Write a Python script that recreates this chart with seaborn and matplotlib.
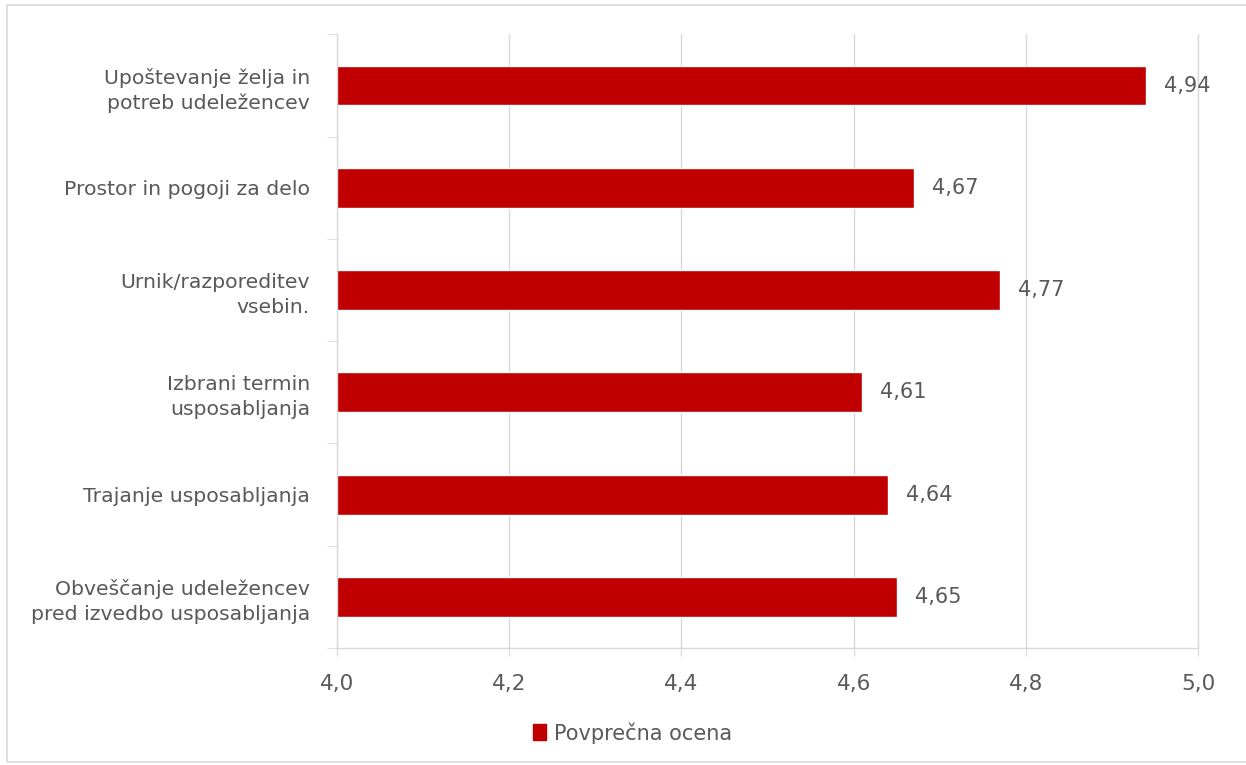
import pandas as pd
import matplotlib.pyplot as plt
import matplotlib.patches as mpatches
from matplotlib.ticker import FixedLocator, FuncFormatter
import seaborn as sns

categories = [
    "Upoštevanje želja in\npotreb udeležencev",
    "Prostor in pogoji za delo",
    "Urnik/razporeditev\nvsebin.",
    "Izbrani termin\nusposabljanja",
    "Trajanje usposabljanja",
    "Obveščanje udeležencev\npred izvedbo usposabljanja",
]
scores = [4.94, 4.67, 4.77, 4.61, 4.64, 4.65]
series_name = "Povprečna ocena"
x_ticks = [4.0, 4.2, 4.4, 4.6, 4.8, 5.0]

RED = "#C00000"
GREY_TXT = "#595959"
GRID = "#D9D9D9"

df = pd.DataFrame({"kategorija": categories, "ocena": scores})

sns.set_style("white")
plt.rcParams["font.family"] = ["DejaVu Sans"]

fig = plt.figure(figsize=(12.46, 7.65), dpi=100)
ax = fig.add_axes([0.2705, 0.153, 0.691, 0.802])

_ = sns.barplot(data=df, y="kategorija", x="ocena", color=RED, width=0.39,
                saturation=1, ax=ax, label=series_name)
_ = ax.set_xlim(4.0, 5.0)
_ = ax.set_ylim(5.5, -0.5)
_ = ax.set_xlabel("")
_ = ax.set_ylabel("")

# value labels with decimal comma
_ = ax.bar_label(ax.containers[0], labels=[f"{v:.2f}".replace(".", ",") for v in scores],
                 padding=13, fontsize=15, color=GREY_TXT)

ax.xaxis.set_major_locator(FixedLocator(x_ticks))
ax.xaxis.set_major_formatter(FuncFormatter(lambda v, p: f"{v:.1f}".replace(".", ",")))
ax.grid(axis="x", color=GRID, linewidth=1)
_ = ax.axvline(5.0, color=GRID, linewidth=1, clip_on=False, zorder=0)
ax.set_axisbelow(True)
ax.tick_params(axis="x", bottom=True, length=6, color=GRID, labelsize=15.5,
               labelcolor=GREY_TXT, pad=13)
ax.tick_params(axis="y", left=False, labelsize=14.7, labelcolor=GREY_TXT, pad=16)
ax.yaxis.set_minor_locator(FixedLocator([i - 0.5 for i in range(len(categories) + 1)]))
ax.tick_params(axis="y", which="minor", left=True, length=7, color=GRID)
for lbl in ax.get_yticklabels():
    lbl.set_linespacing(1.38)

for side in ["top", "right"]:
    ax.spines[side].set_visible(False)
for side in ["left", "bottom"]:
    ax.spines[side].set_color(GRID)
    ax.spines[side].set_linewidth(1)

handles = [mpatches.Patch(color=RED, label=series_name)]
_ = fig.legend(handles=handles, loc="center", bbox_to_anchor=(0.508, 0.042),
               frameon=False, fontsize=15, labelcolor=GREY_TXT,
               handlelength=0.6, handleheight=0.8, handletextpad=0.4)
if ax.get_legend() is not None:
    ax.get_legend().remove()

# outer chart border
fig.patches.append(mpatches.Rectangle((0.0056, 0.004), 1.2, 0.99, transform=fig.transFigure,
                                      fill=False, edgecolor=GRID, linewidth=1.2, figure=fig))

fig.savefig("out.png", dpi=100, facecolor="white")
